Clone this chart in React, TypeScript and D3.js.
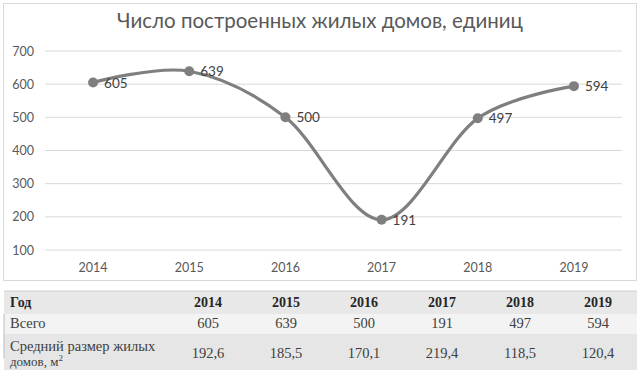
import React from "react";
import * as d3 from "d3";

const years = ["2014", "2015", "2016", "2017", "2018", "2019"];
const totals = [605, 639, 500, 191, 497, 594];
const avgSize = ["192,6", "185,5", "170,1", "219,4", "118,5", "120,4"];
const yTicks = [100, 200, 300, 400, 500, 600, 700];
const title = "Число построенных жилых домов, единиц";

export default function App() {
  const W = 640, H = 377;
  const x = d3.scaleBand<string>().domain(years).range([45, 622]);
  const y = d3.scaleLinear().domain([100, 700]).range([250, 51]);
  const cx = (d: string) => (x(d) as number) + x.bandwidth() / 2;
  const pts: [number, number][] = years.map((yr, i) => [cx(yr), y(totals[i])]);
  const line = d3.line().curve(d3.curveCardinal.tension(0))(pts) || "";

  const tx = d3.scaleBand<string>().domain(years).range([169, 637]);
  const tcx = (d: string) => (tx(d) as number) + tx.bandwidth() / 2;
  const chartFont = "Lato, 'Open Sans', sans-serif";
  const tableFont = "'Liberation Serif', 'DejaVu Serif', serif";

  return (
    <svg width={W} height={H} style={{ position: "absolute", left: 0, top: 0, background: "#fff" }}>
      <rect x={3.5} y={3.5} width={633} height={277} fill="#fff" stroke="#d9d9d9" />
      <text x={320} y={28} textAnchor="middle" fontFamily={chartFont} fontSize={20.5} fill="#595959">
        {title}
      </text>
      {yTicks.map((t) => (
        <g key={t}>
          <line x1={45} x2={622} y1={y(t)} y2={y(t)} stroke="#d9d9d9" strokeWidth={1} />
          <text x={34} y={y(t) + 4.5} textAnchor="end" fontFamily={chartFont} fontSize={12.5} fill="#595959">
            {t}
          </text>
        </g>
      ))}
      {years.map((yr) => (
        <text key={yr} x={cx(yr)} y={272} textAnchor="middle" fontFamily={chartFont} fontSize={12.5} fill="#595959">
          {yr}
        </text>
      ))}
      <path d={line} fill="none" stroke="#7f7f7f" strokeWidth={3.2} />
      {pts.map((p, i) => (
        <g key={i}>
          <circle cx={p[0]} cy={p[1]} r={5} fill="#7f7f7f" />
          <text x={p[0] + 11} y={p[1] + 5} fontFamily={chartFont} fontSize={13.5} fill="#404040">
            {totals[i]}
          </text>
        </g>
      ))}

      {/* table */}
      <rect x={4} y={291} width={633} height={23} fill="#e8e8e8" />
      <rect x={4} y={314} width={633} height={20} fill="#f3f3f3" />
      <rect x={4} y={334} width={633} height={36} fill="#e6e6e6" />
      <line x1={4} x2={637} y1={291} y2={291} stroke="#cfcfcf" />
      <line x1={4} x2={4} y1={314} y2={358} stroke="#bdbdbd" />
      <text x={10} y={307} fontFamily={tableFont} fontSize={14} fontWeight="bold" fill="#262626">Год</text>
      <text x={10} y={328} fontFamily={tableFont} fontSize={14.5} fill="#404040">Всего</text>
      <text x={10} y={351} fontFamily={tableFont} fontSize={14.5} fill="#404040">Средний размер жилых</text>
      <text x={10} y={366} fontFamily={tableFont} fontSize={13} fill="#404040">
        домов, м<tspan dy={-5} fontSize={9}>2</tspan>
      </text>
      {years.map((yr, i) => (
        <g key={yr}>
          <text x={tcx(yr)} y={307} textAnchor="middle" fontFamily={tableFont} fontSize={14} fontWeight="bold" fill="#262626">
            {yr}
          </text>
          <text x={tcx(yr)} y={328} textAnchor="middle" fontFamily={tableFont} fontSize={14.5} fill="#404040">
            {totals[i]}
          </text>
          <text x={tcx(yr)} y={358} textAnchor="middle" fontFamily={tableFont} fontSize={14.5} fill="#404040">
            {avgSize[i]}
          </text>
        </g>
      ))}
    </svg>
  );
}
